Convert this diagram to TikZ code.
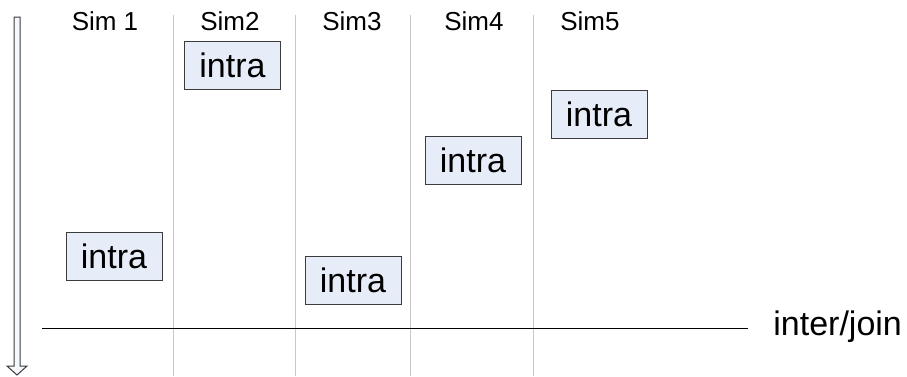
\documentclass[tikz,border=0pt]{standalone}
\usepackage{fontspec}
\setmainfont{Liberation Sans}
\usepackage{tikz}
\usetikzlibrary{positioning}
\definecolor{boxfill}{HTML}{E7EDF8}
\definecolor{sepgray}{HTML}{C8C8C8}
\definecolor{edgegray}{HTML}{3C3C3C}

\begin{document}
\begin{tikzpicture}[x=0.5pt, y=-0.5pt,
    simlabel/.style = {anchor = base, inner sep = 0pt, font = \fontsize{13}{15}\selectfont},
    intrabox/.style = {draw = edgegray, line width = 0.5pt, fill = boxfill, inner sep = 0pt,
                       minimum width = 48pt, minimum height = 24pt, font = \fontsize{17}{19}\selectfont},
    sepline/.style = {draw = sepgray, line width = 0.5pt}]
          \useasboundingbox (0, 0) rectangle (907, 376);
          % column separators
          \foreach \x [count = \i] in {173, 295, 410, 533} {
            \coordinate (VT\i) at (\x, 15);
            \coordinate (VB\i) at (\x, 376);
            \draw [sepline] (VT\i) -- (VB\i);
          }
          % column headers
          \node [simlabel] (S1) at (105, 30) {Sim 1};
          \node [simlabel] (S2) at (230, 30) {Sim2};
          \node [simlabel] (S3) at (352, 30) {Sim3};
          \node [simlabel] (S4) at (474, 30) {Sim4};
          \node [simlabel] (S5) at (590, 30) {Sim5};
          % intra phases
          \node [intrabox] (I1) at (114, 256.5) {intra};
          \node [intrabox] (I2) at (232.5, 65) {intra};
          \node [intrabox] (I3) at (353, 280) {intra};
          \node [intrabox] (I4) at (473, 160) {intra};
          \node [intrabox] (I5) at (599, 114.5) {intra};
          % inter/join barrier
          \coordinate (HL) at (42, 328);
          \coordinate (HR) at (748, 328);
          \node [anchor = base west, inner sep = 0pt, font = \fontsize{17}{19}\selectfont] (J) at (773, 335) {inter/join};
          \draw [line width = 0.5pt] (HL) -- (HR);
          % time arrow
          \draw [draw = edgegray, fill = boxfill!40, line width = 0.5pt]
            (14, 17) -- (20, 17) -- (20, 366) -- (27, 366) -- (17, 375)
            -- (7, 366) -- (14, 366) -- cycle;
  \end{tikzpicture}
\end{document}
